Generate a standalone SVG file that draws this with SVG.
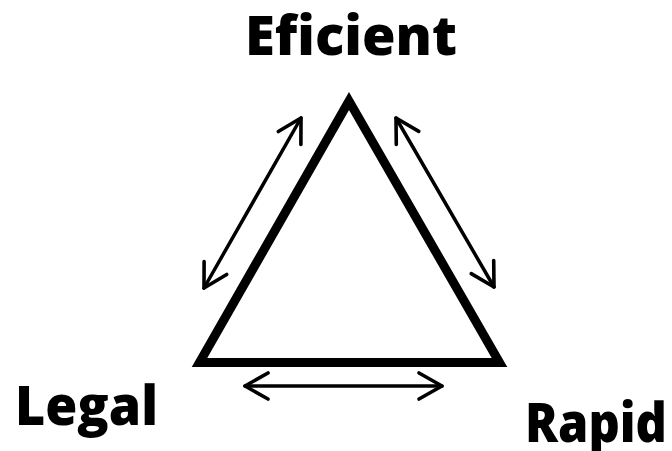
<svg xmlns="http://www.w3.org/2000/svg" width="672" height="451" viewBox="0 0 672 451">
<style>
.lbl{font-family:"Open Sans","Liberation Sans",sans-serif;font-weight:800;font-size:55px;fill:#000}
.arr{stroke:#000;stroke-width:3.5;fill:none;stroke-linecap:round;marker-start:url(#ah);marker-end:url(#ah)}
</style>
<defs>
<marker id="ah" markerUnits="userSpaceOnUse" viewBox="-30 -16 34 32" refX="0" refY="0" markerWidth="34" markerHeight="32" orient="auto-start-reverse">
<path d="M-23,-13 L0,0 L-23,13" fill="none" stroke="#000" stroke-width="3.6" stroke-linecap="round" stroke-linejoin="round"/>
</marker>
</defs>
<rect width="672" height="451" fill="#fff"/>
<g id="triangle">
<polygon points="349,101 199.5,362.5 499.5,362.5" fill="#fff" stroke="#000" stroke-width="9" stroke-linejoin="miter"/>
</g>
<g id="eficient"><text class="lbl" x="245" y="55" textLength="212" lengthAdjust="spacingAndGlyphs">Eficient</text></g>
<g id="legal"><text class="lbl" x="15" y="425" textLength="143" lengthAdjust="spacingAndGlyphs">Legal</text></g>
<g id="rapid"><text class="lbl" x="525" y="442" textLength="142" lengthAdjust="spacingAndGlyphs">Rapid</text></g>
<g id="connectors">
<line class="arr" x1="204" y1="288" x2="301" y2="118"/>
<line class="arr" x1="396" y1="118" x2="494" y2="287"/>
<line class="arr" x1="245" y1="386" x2="442" y2="386"/>
</g>
</svg>
